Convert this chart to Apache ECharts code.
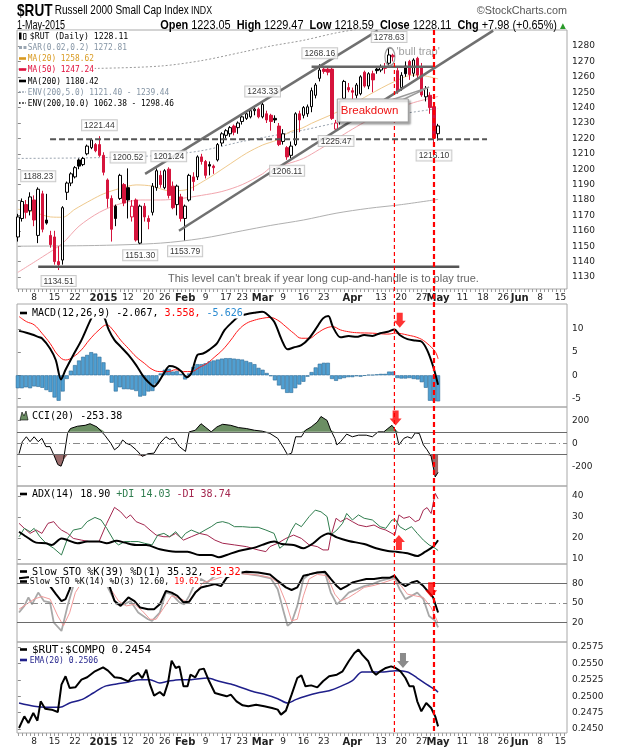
<!DOCTYPE html>
<html>
<head>
<meta charset="utf-8">
<title>$RUT daily</title>
<script src="https://cdn.jsdelivr.net/npm/echarts@6.0.0/dist/echarts.min.js"></script>
<style>
  html, body { margin: 0; padding: 0; background: #fff; }
  #chart { width: 620px; height: 750px; }
</style>
</head>
<body>
<div id="chart"></div>
<script>
// ---- price data, one entry per trading day (index 0 = 2 Dec 2014, 103 = 1 May 2015)
const opens = [
  1156,1168,1177,1173,1180,1157,1184,1167,1157,1156,
  1140,1141,1185,1191,1195,1206,1203,1210,1214,1216,
  1216,1209,1193,1181,1176,1181,1190,1188,1169,1180,
  1152,1176,1168,1172,1188,1196,1188,1200,1189,1177,
  1182,1168,1180,1195,1195,1208,1205,1203,1202,1206,
  1217,1222,1223,1228,1227,1231,1233,1234,1238,1239,
  1234,1236,1235,1233,1228,1218,1214,1209,1216,1236,
  1235,1236,1240.6,1248,1259,1265,1265,1265,1226,1231,
  1246,1253,1251,1248,1249,1263,1254,1262,1265,1264.4,
  1266.6,1268.8,1274,1264,1253,1267,1270,1262.3,1272,1266.6,
  1247,1248,1240.6,1223.05];
const highs = [
  1171,1181,1180,1185,1183,1188.23,1186,1184,1160,1160,
  1150,1176,1192,1198,1202,1207,1208,1216,1220,1217,
  1221.44,1211,1194,1183,1177,1197,1191,1200.52,1180,1181,
  1177,1178,1170,1191,1200.5,1199,1200,1201.24,1192,1190,
  1184,1177,1197,1198,1209,1210,1206,1205,1203,1217,
  1224,1226,1228,1229,1231,1235,1237,1239,1240,1240,
  1243.33,1238,1236,1235,1230,1226,1215,1218,1237,1238,
  1241,1242,1253,1256,1268.16,1266,1266,1266,1232,1238,
  1258,1256,1253,1256,1261,1264,1263,1264,1266,1268,
  1269,1278.63,1275,1266,1263,1270,1271,1272,1273,1269,
  1254,1250,1241,1229.47];
const lows = [
  1153,1166,1168,1170,1163,1152,1159,1164,1149,1138,
  1134.51,1138,1180,1189,1194,1200,1202,1209,1213,1211,
  1208,1196,1175,1153,1163,1180,1176,1168,1166,1153,
  1151.3,1166,1161,1170,1186,1188,1187,1181,1174,1170,
  1166,1153.79,1179,1186,1193,1203,1194,1196,1197,1205,
  1215,1220,1221,1222,1223,1229,1232,1233,1235,1233,
  1233,1230,1225,1230,1215,1216,1206.11,1207,1215,1224,
  1233,1234,1237,1246,1257,1262,1261,1232,1225.47,1229,
  1245,1250,1245,1246,1248,1253,1252,1250,1262,1263,
  1262,1267,1270,1249,1251,1260,1258,1260,1259,1247,
  1244,1236,1216.1,1218.59];
const closes = [
  1169,1179,1172,1182,1167,1187,1161,1165,1151,1140,
  1138,1175,1191,1197,1201,1202,1207,1215,1219,1212,
  1209,1198,1181,1161,1168,1196,1178,1180,1176,1154,
  1176,1169,1166,1189,1199,1190,1199,1183,1175,1189,
  1168,1176,1196,1192,1208,1205,1196,1202,1201,1216,
  1223,1225,1227,1224,1230,1234,1236,1238,1239,1234,
  1242,1232,1231,1232,1216,1223,1208,1215,1236,1232,
  1240,1240.5,1251,1254.7,1264.4,1263.5,1263,1233,1230,1236,
  1257,1251.5,1250,1254.7,1260,1254,1262,1258,1264,1266.6,
  1265.5,1274.2,1273,1250.4,1261,1262,1261.5,1270.9,1261.2,1248.2,
  1252.5,1240,1220.13,1228.11];

// x-axis labels: [day index, text]
const tickLabels = [[4,'8'],[9,'15'],[14,'22'],[21,'2015'],[27,'12'],[32,'20'],[36,'26'],
  [41,'Feb'],[46,'9'],[51,'17'],[55,'23'],[60,'Mar'],[65,'9'],[70,'16'],[75,'23'],
  [82,'Apr'],[89,'13'],[94,'20'],[99,'27'],[103,'May'],[109,'11'],[114,'18'],[119,'26'],
  [123,'Jun'],[128,'8'],[133,'15']];
const boldLabels = ['2015','Feb','Mar','Apr','May','Jun'];

// overlays on the price panel: [day index, value]
const ma20 = [[0,1174],[4,1172],[8,1169],[11,1168.8],[14,1174],[18,1180],[21,1184],[25,1187.5],[29,1189.8],
  [33,1189],[37,1186],[41,1186.5],[46,1193],[51,1201.6],[56,1210.3],[60,1215.7],[63.5,1219],[66.7,1224.3],
  [69.6,1226.6],[72,1229.8],[77.6,1236.3],[82,1242],[86,1248.2],[92.3,1256.9],[97,1261.2],[100,1260.5],[103,1258.62]];
const ma50 = [[0,1133],[6,1143],[11,1152],[15,1163],[20,1172],[25,1177.5],[30,1180],[35,1180],[40,1181],
  [45,1183],[50,1185.5],[55,1190],[60,1197],[62,1201],[66,1203.5],[70,1207],[74,1213],[78,1219.5],[82,1226],
  [86,1232],[90,1236.5],[94,1240.6],[98,1244],[103,1247.24]];
const ma200 = [[0,1150],[20,1150.5],[35,1152],[45,1155],[55,1160],[62,1163.5],[70,1167],[78,1171.4],
  [86,1174.6],[94,1177],[103,1180.42]];
const env5Upper = [[0,1207],[20,1207.5],[35,1209],[45,1212],[55,1218],[62,1221.5],[70,1225.4],[78,1230],
  [86,1233.5],[94,1236],[103,1239.44]];
const env10Upper = [[0,1265],[20,1265.5],[35,1267],[45,1270.5],[55,1276],[62,1280],[70,1283.7],[78,1288.5],
  [86,1292],[94,1294.7],[103,1298.46]];

// hand-drawn annotations: [[x1,y1],[x2,y2]]
const channelLines = [[[31.2,1197],[88.2,1290]], [[39.5,1160],[116.5,1290]]];
const levelLines = [[[72,1266.6],[101.8,1266.6]], [[5,1136.7],[108.2,1136.7]]];
const dashedLevel = [[7.9,1219.5],[115,1219.5]];
const priceNotes = [[5,'h'],[10,'l'],[20,'h'],[27,'h'],[30,'l'],[37,'h'],[41,'l'],[60,'h'],[66,'l'],
  [74,'h'],[78,'l'],[91,'h'],[102,'l']];
const bullTrap = [91.2, 1273];
const breakdownBox = [78.3, 1245.6, 95.7, 1230.7];
const breakdownTip = [100.8, 1253.3];
const cupNote = [36.8, 1128.7];
const redLines = [{x: 92.3, from: 1269, w: 1.2, dash: [4, 3]}, {x: 102, from: 1290.4, w: 2.2, dash: [5, 3]}];
const arrows = [
  {grid: 1, x: 93.6, y: 11.9, up: false, color: '#ff0000'},
  {grid: 2, x: 92.6, y: 221, up: false, color: '#ff0000'},
  {grid: 3, x: 93.4, y: 17.9, up: true, color: '#ff0000'},
  {grid: 4, x: 101.3, y: 70.5, up: false, color: '#ff0000'},
  {grid: 5, x: 94.4, y: 0.25544, up: false, color: '#6e6e6e'}];

// MACD(12,26,9)
const macdHist = [
  -2.8,-2.8,-2.6,-2.8,-2.4,-2.5,-2.7,-3.2,-3.6,-4.8,
  -5.5,-3.5,-0.8,1.0,2.2,3.2,4.0,4.4,5.0,4.7,
  4.0,2.8,1.2,-1.6,-3.5,-2.6,-3.0,-3.0,-3.1,-3.4,
  -4.6,-4.4,-3.5,-3.4,-1.8,0.4,1.2,1.4,0.8,0.9,
  0.3,-0.9,0.4,1.8,2.4,2.4,2.6,3.0,3.2,3.4,
  3.6,3.7,3.7,3.6,3.5,3.4,3.1,2.8,2.4,1.6,
  1.2,0.5,-0.2,-1.1,-2.2,-3.0,-3.8,-3.8,-2.8,-2.0,
  -1.4,-0.3,0.7,1.7,2.5,2.7,2.7,-0.8,-1.2,-0.8,
  -0.6,-0.4,-0.4,-0.2,-0.3,-0.1,0.1,0.1,0.2,0.3,
  0.3,0.8,0.8,-0.6,-0.7,-0.7,-0.6,-0.8,-0.9,-1.5,
  -2.7,-5.5,-5.6,-5.63];
const macdLine = [[0.3,9.6],[2.1,9.2],[3.5,8.8],[5,8.3],[5.9,8.0],[7.9,5.8],[9.3,3.3],[10.6,-0.9],[11.7,1.2],
  [13.6,4.4],[15.6,7.6],[18,12.3],[19.4,14.3],[21.1,12.7],[22.3,9.8],[23.7,7.6],[25.2,6.2],[27.1,4.4],[29,2.2],
  [30.5,0.1],[31.9,-1.4],[33.4,-2.4],[34.3,-1.7],[35.8,0.4],[37.2,2.0],[38.7,1.7],[40.1,0.8],[41.4,-0.4],
  [42.5,0.4],[44,4.4],[45.4,4.7],[46.9,5.5],[48.8,6.9],[50.7,9.8],[52.7,11.6],[54.1,12.7],[56,13.2],[58,13.5],
  [59.9,13.7],[60.8,13.4],[62.8,11.6],[64.7,7.6],[66.1,5.6],[67.6,6.0],[69.5,6.5],[71.4,8.0],[73.4,10.5],
  [74.8,12.3],[76.1,12.8],[77.2,10.5],[79.1,8.2],[81.1,8.5],[83,8.3],[84.9,8.7],[86.9,8.5],[88.8,9.1],
  [90.7,9.4],[92.3,9.9],[93.6,8.7],[95.5,7.8],[97.4,7.5],[98.9,7.3],[100.3,5.5],[101.8,1.9],[103,-2.067]];
const macdSignal = [[0.3,12.7],[2.1,11.6],[4,10.9],[5.9,9.1],[7.9,6.9],[9.8,4.4],[11.7,3.3],[13.6,4.0],
  [15.6,5.5],[17.5,7.6],[19.9,9.8],[21.8,10.9],[23.3,9.8],[25.2,7.6],[27.1,5.8],[29,4.0],[31,2.6],[32.9,1.3],
  [34.8,0.8],[36.8,0.8],[38.7,1.2],[40.6,0.8],[42.5,0.8],[44.5,1.7],[46.4,2.6],[48.3,4.0],[50.2,5.5],
  [52.2,7.6],[54.1,9.8],[56,11.2],[58,11.9],[59.9,12.3],[61.8,12.5],[63.7,11.9],[65.7,10.5],[67.6,9.1],
  [69.5,8.0],[71.4,8.0],[73.4,9.1],[75.3,10.1],[77.2,10.5],[79.1,9.8],[81.1,9.4],[83,9.2],[86.9,9.1],
  [90.7,8.9],[92.6,9.1],[95.5,8.7],[98.4,8.0],[100.3,6.9],[102.3,5.1],[103,3.558]];

// CCI(20)
const cci = [[0.3,-91],[1.1,14],[2.1,57],[3,14],[4,57],[5,14],[5.9,43],[6.9,-29],[7.9,-29],[8.8,-100],
  [9.8,-186],[10.6,-200],[11.2,-143],[12.2,86],[12.9,129],[14.6,149],[16.5,157],[17.7,171],[19.4,143],
  [21.3,71],[22.8,0],[23.7,-57],[24.7,-29],[25.7,29],[26.6,0],[27.6,-14],[29,-57],[30.5,-114],[31.9,-91],
  [33.4,-86],[34.8,0],[36.3,57],[37.2,34],[38.2,43],[39.6,-29],[41.1,-71],[42,100],[43.5,114],[44.9,171],
  [45.9,143],[47.4,100],[48.8,143],[50.2,166],[52.2,157],[54.1,137],[56,129],[58,114],[59.9,106],[61.8,86],
  [63.7,43],[65.2,-43],[66.1,-100],[67.1,-86],[68.1,57],[69.5,57],[70.5,114],[71.9,143],[73.4,186],
  [74.3,234],[75.8,200],[76.7,114],[77.7,43],[78.2,-14],[79.1,14],[80.6,80],[82,57],[83.5,71],[85.4,71],
  [86.9,57],[88.3,100],[89.7,100],[90.7,129],[91.7,157],[92.6,114],[93.4,-14],[94.6,43],[95.5,57],
  [96.5,43],[97.4,91],[98.4,86],[99.4,-14],[100.3,-57],[101.3,-114],[102.3,-294],[103,-253.38]];

// ADX(14)
const adx = [[0.3,23],[2.1,20.6],[4.5,17.8],[6.9,17.5],[8.3,16.7],[10.7,19.8],[12.2,19],[14.6,17.5],[17,18.3],
  [19.9,18.3],[21.8,17.5],[24.2,18.7],[26.2,17.8],[29,16.7],[31.5,16.7],[34.8,14.6],[38.7,13.5],[41.6,13.5],
  [44.5,11.9],[47.4,11.9],[49.3,10.8],[51.2,11.9],[54.1,13.8],[58,15.4],[59.9,16.7],[62.8,18.3],[64.7,17.1],
  [67.6,16.7],[70,15.1],[72.4,17.5],[74.3,20.6],[76.1,22.2],[78.2,20.3],[81.1,18.6],[84.9,17.1],[87.8,15.1],
  [90.7,13.8],[92.6,13.5],[95.5,12.7],[97.9,11.4],[99.9,13.5],[101.8,15.9],[103,18.9]];
const plusDI = [[0.3,20.6],[1.6,24.6],[3,23],[4,24.6],[5.4,20.6],[6.9,17.5],[8.8,15.1],[10.7,11.9],[12.2,19.8],
  [13.6,23.8],[15.6,24.6],[17,27.8],[18.9,29.8],[20.4,28.6],[21.8,24.6],[23.7,18.3],[24.7,16.7],[26.2,18.3],
  [27.6,18.3],[29.5,18.3],[31,17.5],[32.9,16.7],[34.3,21.4],[35.8,22.2],[37.2,20.6],[38.7,23],[40.1,19.8],
  [41.1,22.2],[42.5,23.8],[44.5,22.2],[45.9,23.8],[47.4,25.4],[48.8,27.3],[50.2,27.8],[51.7,27],[53.1,25.4],
  [55.1,25.4],[57,25.1],[58.9,25.1],[60.8,23.8],[62.8,22.2],[64.2,15.1],[65.7,17.5],[67.1,23.8],[68.1,27],
  [69.5,25.4],[71.4,30.2],[72.9,33.3],[74.3,32.5],[75.8,30.2],[76.7,21.4],[78.2,23.8],[79.6,27],[80.6,31.7],
  [82,28.6],[83.5,31],[84.9,29.4],[86.9,28.6],[88.8,25.4],[90.2,24.6],[91.7,28.6],[92.6,28.6],[93.6,25.4],
  [95,23.8],[96.5,25.4],[97.9,22.2],[99.4,19],[100.8,16.7],[102.3,15.1],[103,14.03]];
const minusDI = [[0.3,27],[1.6,24.6],[3,22.2],[4.5,23.8],[5.9,22.2],[7.4,27],[8.8,27.8],[9.8,25.4],[10.7,23.8],
  [12.2,22.2],[13.6,19.8],[15.6,19],[17.5,18.3],[19.9,18.3],[21.8,27],[23.7,34.6],[25.2,32.5],[26.6,29.4],
  [27.6,31],[29,27.8],[31,26.2],[32.4,23.8],[33.9,21.4],[35.8,20.6],[37.2,20.6],[38.7,22.2],[40.6,19],
  [42.5,20.6],[44.5,22.2],[46.4,21.4],[48.3,19],[50.2,17.5],[53.1,16.7],[56,15.9],[58.9,14.3],[60.8,13.5],
  [61.8,15.9],[63.7,17.5],[65.7,19.8],[67.6,21.4],[69.5,19.8],[71.4,16.7],[73.4,15.9],[74.8,14.3],[76.1,14.3],
  [76.7,20.6],[78,29.4],[79.1,27.8],[80.6,29.4],[82,27.8],[83.5,26.2],[85.4,25.4],[87.3,26.2],[88.8,24.6],
  [90.2,23.8],[91.7,22.2],[92.4,21.4],[93.4,31],[94.6,29.4],[96,30.2],[97.4,27.8],[98.4,28.6],[99.4,33.3],
  [100.3,34.5],[101.3,31.7],[102.3,41.3],[103,38.74]];

// Slow stochastics
const sto39 = [[0.3,88],[3,90],[5,92],[6.9,85],[7.9,76],[9.3,64],[10.7,53],[11.7,56],[12.7,71],[13.5,88],
  [15,95],[17,97],[19,98],[21,94],[22.3,79],[23.7,53],[25.2,45.6],[27.1,58.5],[28.6,53],[30,43],[31.9,40.5],
  [33.4,40.5],[34.8,48],[36.3,68.7],[37.7,66],[39.1,61],[40.6,51],[42,52],[43.5,66],[44.9,74],[46.4,76],
  [48.3,79],[49.8,76],[51.2,89],[53,95],[56,98],[58.9,97],[61.8,94],[63.7,84],[65.7,74],[67.1,70],[68.5,74],
  [70,92],[71.4,94],[73.4,97],[75.3,98],[76.7,87],[78.2,76],[79.1,71],[80.6,76],[82,81.5],[83.5,84],[85.4,87],
  [87.3,87],[89.3,89],[91.2,89],[92.3,92],[93.6,81.5],[95,76],[96.5,81.5],[97.9,84],[99.4,76],[100.8,66],
  [101.8,58.5],[103,35.32]];
const sto14K = [[0.3,35.4],[1.6,45.6],[2.6,58.5],[3.5,48],[5,66],[6.4,53],[7.9,51],[8.8,20],[10.7,7],[12.2,45.6],
  [13.6,76],[15,90],[17,95],[19,92],[21,88],[22.3,71],[24.2,48],[26.2,48],[27.6,53],[29.5,35.4],[31.9,25],
  [32.9,22.6],[34.8,35.4],[36.3,66],[37.7,63.6],[39.6,51],[40.8,48],[42,61],[43.5,81.5],[44.9,87],[46.4,81.5],
  [48,90],[50,95],[53,97],[56,95],[59,92],[62,88],[63.7,71],[65.2,35.4],[66.1,15],[67.1,20],[68.5,45.6],
  [70,87],[71.4,94],[73.4,97],[75.3,96],[76.7,66],[78.2,48],[79.6,56],[81.1,66],[83,71],[84.9,76],[86.9,79],
  [88.8,84],[90.7,87],[92.3,89],[93.6,71],[95,56],[96.5,61],[97.9,66],[99.4,56],[100.8,30],[102.3,22.6],[103,12.6]];
const sto14D = [[0.3,40.5],[2.1,48],[4,56],[5.9,60],[7.9,56],[9.8,30],[11.2,15],[12.7,35],[14.1,66],[16,85],
  [18,93],[20,92],[21.5,85],[22.8,71],[24.7,53],[26.6,45.6],[28.6,48],[30.5,38],[32.4,25],[33.9,25],[35.8,43],
  [37.7,61],[40.1,56],[41.6,51],[43.5,66],[45.4,81.5],[48,86],[51,92],[55,95],[59,93],[62,89],[63.7,81.5],
  [65.7,51],[67.1,22.6],[68.5,25],[70,61],[71.4,87],[73.4,94],[75.8,92],[77.7,63.6],[79.1,53],[81.1,58.5],
  [83,66],[84.9,74],[87.3,77],[89.7,81.5],[92.3,87],[94,76],[95.5,63.6],[97.4,61],[99.4,58.5],[101.3,43],[103,19.62]];

// $RUT:$COMPQ ratio and its EMA(20)
const ratio = [[0.3,0.24515],[1.6,0.24693],[2.6,0.24591],[3.8,0.24744],[4.8,0.24627],[5.6,0.24922],[6.7,0.2481],
  [8.3,0.24795],[9.8,0.24759],[10.7,0.25176],[11.7,0.25303],[12.7,0.25125],[14.1,0.25135],[15.6,0.25252],
  [17,0.25288],[18.9,0.25379],[20.9,0.2544],[22.1,0.2539],[23.7,0.25288],[25.2,0.25277],[27.1,0.25227],
  [28.1,0.25303],[29.5,0.25354],[30.5,0.25277],[31.5,0.25405],[32.4,0.25176],[33.4,0.25008],[34.8,0.25064],
  [35.8,0.25008],[36.8,0.25201],[37.7,0.25542],[38.7,0.2543],[39.6,0.25455],[40.6,0.2515],[41.6,0.2515],
  [42.3,0.25328],[43.5,0.25288],[44.5,0.25405],[45.6,0.2542],[46.9,0.25227],[48.3,0.25049],[49.8,0.25023],
  [51.2,0.24998],[52.2,0.25023],[53.6,0.24922],[55.1,0.24861],[56.5,0.24846],[58.4,0.24871],[60.4,0.24846],
  [62.3,0.2482],[63.7,0.24795],[64.5,0.24719],[65.7,0.2478],[67.1,0.25023],[68.5,0.25277],[69.5,0.25318],
  [70.5,0.2515],[71.9,0.25165],[73.4,0.25135],[74.8,0.25227],[76.3,0.25303],[78.2,0.25328],[79.6,0.25379],
  [81.1,0.25532],[82.5,0.25659],[83.5,0.2571],[84.4,0.25633],[85.9,0.25532],[86.9,0.25379],[87.8,0.25328],
  [88.8,0.25379],[90.2,0.2543],[91.5,0.25455],[92.6,0.2543],[93.8,0.25379],[95,0.25277],[96,0.2515],
  [97,0.2515],[97.9,0.24922],[98.9,0.2477],[100.1,0.24896],[101.3,0.2482],[102.3,0.24693],[103,0.2454]];
const ratioEma = [[0.3,0.24896],[4,0.24846],[6.9,0.2483],[10.3,0.2483],[12.7,0.24896],[15.6,0.24947],
  [18.5,0.25049],[21.3,0.2515],[24.2,0.25186],[27.1,0.25216],[30,0.25252],[32.4,0.25252],[34.8,0.25201],
  [36.8,0.25227],[39.6,0.25252],[42.5,0.25252],[46.4,0.25277],[49.3,0.25227],[52.2,0.25186],[55.1,0.25125],
  [58,0.25064],[60.8,0.25023],[63.7,0.24962],[66.1,0.24896],[68.1,0.24947],[70.5,0.24998],[73.4,0.25049],
  [76.3,0.25084],[79.1,0.2515],[82,0.25237],[84.4,0.25369],[86.9,0.25369],[89.7,0.25369],[92.6,0.25389],
  [95.5,0.25369],[97.9,0.25277],[100.3,0.25176],[102.3,0.251],[103,0.2506]];

// ---- layout
const FONT = 'DejaVu Sans';
const MONO = 'DejaVu Sans Mono';
const SANS = 'Liberation Sans';
const RED = '#d6143c';
const grids = [
  {top: 30, height: 259}, {top: 304, height: 103}, {top: 407, height: 79},
  {top: 486, height: 78}, {top: 564, height: 78}, {top: 642, height: 91}];
const yRanges = [[1122.2, 1290.4], [-6.85, 15.4], [-373, 317], [7.6, 44.8], [-10, 110], [0.24439, 0.25826]];
const yTicks = [
  [1130,1140,1150,1160,1170,1180,1190,1200,1210,1220,1230,1240,1250,1260,1270,1280],
  [-5,0,5,10], [-200,0,200], [10,20,30,40], [20,50,80],
  [0.245,0.2475,0.25,0.2525,0.255,0.2575]];
const dayTicks = [];
for (let i = 0; i <= 134; i++) dayTicks.push(i);
const labelMap = {};
tickLabels.forEach(([i, t]) => { labelMap[i] = t; });

const chart = echarts.init(document.getElementById('chart'), null, {renderer: 'canvas', width: 620, height: 750});

function line(gi, data, color, width, extra) {
  return Object.assign({type: 'line', xAxisIndex: gi, yAxisIndex: gi, data, symbol: 'none', silent: true,
    lineStyle: {color, width}, itemStyle: {color}, z: 3}, extra || {});
}
function segment(data, color, width, dash) {
  return line(0, data, color, width, {lineStyle: {color, width, type: dash || 'solid'}, z: 5});
}

const candleData = opens.map((o, i) => {
  const c = closes[i];
  const col = (i > 0 && c < closes[i - 1]) ? RED : '#000';
  const fill = c > o ? '#fff' : col;
  return {value: [i, o, c, lows[i], highs[i]],
    itemStyle: {color: fill, color0: fill, borderColor: col, borderColor0: col, borderWidth: 1}};
});

const arrowPath = 'path://M3,0 L9,0 L9,8 L12,8 L6,15 L0,8 L3,8 Z';
const arrowSeries = arrows.map(a => ({
  type: 'scatter', xAxisIndex: a.grid, yAxisIndex: a.grid, silent: true, z: 20,
  data: [[a.x, a.y]], symbol: arrowPath, symbolSize: [12, 15], symbolRotate: a.up ? 180 : 0,
  itemStyle: {color: a.color}
}));

const refLine = (v, dashed) => ({yAxis: v, lineStyle: {color: dashed ? '#8a8a8a' : '#6a6a6a', width: 1,
  type: dashed ? [7, 3, 1, 3] : 'solid'}});

const series = [
  line(0, env10Upper, '#9a9a9a', 1, {lineStyle: {color: '#9a9a9a', width: 1, type: [2, 2]}, smooth: 0.3}),
  line(0, env5Upper, '#9aa4b0', 1, {lineStyle: {color: '#9aa4b0', width: 1, type: [2, 2]}, smooth: 0.3}),
  line(0, ma200, '#b0b0b0', 1, {smooth: 0.3}),
  line(0, ma50, '#f2a6ae', 1, {smooth: 0.3}),
  line(0, ma20, '#efc98c', 1, {smooth: 0.3}),
  {type: 'candlestick', xAxisIndex: 0, yAxisIndex: 0, data: candleData, barWidth: 3, silent: true, z: 4,
    encode: {x: 0, y: [1, 2, 3, 4]}},
  segment(channelLines[0], '#707070', 2.5),
  segment(channelLines[1], '#707070', 2.5),
  segment(levelLines[0], '#666', 2.5),
  segment(levelLines[1], '#555', 2.5),
  segment(dashedLevel, '#555', 2, [6, 3]),
  {type: 'scatter', xAxisIndex: 0, yAxisIndex: 0, silent: true, z: 8, symbolSize: 0,
    data: priceNotes.map(([i, k]) => ({value: [i, k === 'h' ? highs[i] : lows[i]],
      label: {position: k === 'h' ? 'top' : 'bottom'}})),
    label: {show: true, distance: 6, formatter: p => p.value[1].toFixed(2), fontSize: 8.5,
      fontFamily: SANS, color: '#000', backgroundColor: '#fff', borderColor: '#bdbdbd',
      borderWidth: 1, padding: [1, 2, 0, 2]}},
  {type: 'scatter', xAxisIndex: 0, yAxisIndex: 0, silent: true, z: 8, data: [bullTrap],
    symbol: 'circle', symbolSize: [10, 18],
    itemStyle: {color: 'rgba(0,0,0,0)', borderColor: '#808080', borderWidth: 1.5},
    label: {show: true, position: 'right', distance: 1, offset: [0, -5], formatter: "'bull trap'",
      color: '#888', fontSize: 11, fontFamily: SANS}},

  {type: 'bar', xAxisIndex: 1, yAxisIndex: 1, silent: true, barWidth: 4, z: 2,
    data: macdHist.map((v, i) => [i, v]),
    itemStyle: {color: '#4f9fd2', borderColor: '#2c6a96', borderWidth: 0.6}},
  line(1, macdSignal, '#ff1a1a', 1, {smooth: 0.4}),
  line(1, macdLine, '#000', 2, {smooth: 0.3}),

  line(2, cci.map(([x, v]) => [x, Math.max(v, 100)]), '#6b8e63', 0,
    {areaStyle: {origin: 100, color: '#6b8e63', opacity: 1}, z: 2}),
  line(2, cci.map(([x, v]) => [x, Math.min(v, -100)]), '#9a6c6c', 0,
    {areaStyle: {origin: -100, color: '#9a6c6c', opacity: 1}, z: 2}),
  line(2, cci, '#000', 1, {markLine: {symbol: 'none', silent: true, label: {show: false}, animation: false,
    data: [refLine(100), refLine(-100), refLine(0, true)]}}),

  line(3, minusDI, '#a3264e', 1),
  line(3, plusDI, '#2f7d4e', 1),
  line(3, adx, '#000', 2, {smooth: 0.3}),

  line(4, sto14K, '#a8a8a8', 1.8, {markLine: {symbol: 'none', silent: true, label: {show: false},
    animation: false, data: [refLine(80), refLine(20), refLine(50, true)]}}),
  line(4, sto14D, '#f29a9a', 1),
  line(4, sto39, '#000', 2),

  line(5, ratioEma, '#1f1f8a', 1.5, {smooth: 0.3}),
  line(5, ratio, '#000', 2),
  ...arrowSeries
];

const xAxis = grids.map((g, i) => ({
  type: 'value', gridIndex: i, min: -0.2, max: 134.6, show: i === 0 || i === 5,
  axisLine: {show: false}, splitLine: {show: false},
  axisTick: {show: true, customValues: dayTicks, length: 3, lineStyle: {color: '#9a9a9a'}},
  axisLabel: {customValues: tickLabels.map(t => t[0]), margin: 4, fontSize: 9, fontFamily: FONT, color: '#222',
    formatter: v => { const t = labelMap[Math.round(v)]; return t ? (boldLabels.includes(t) ? '{b|' + t + '}' : t) : ''; },
    rich: {b: {fontWeight: 'bold', fontSize: 10, fontFamily: FONT, color: '#222'}}}
}));
const yAxis = grids.map((g, i) => ({
  type: 'value', gridIndex: i, min: yRanges[i][0], max: yRanges[i][1], position: 'right',
  splitLine: {show: false}, axisLine: {show: false},
  axisTick: {show: true, customValues: yTicks[i], length: 3, lineStyle: {color: '#888'}},
  axisLabel: {customValues: yTicks[i], margin: 5, fontSize: 9, fontFamily: FONT, color: '#222',
    formatter: i === 5 ? (v => v.toFixed(4)) : (v => String(v))}
}));

// ---- static text (titles, legends)
function txt(x, y, style, z, scaleX) {
  const el = {type: 'text', x, y, z: z || 100, silent: true,
    style: Object.assign({fill: '#000', fontSize: 9, fontFamily: FONT, verticalAlign: 'middle', textAlign: 'left'}, style)};
  if (scaleX) el.scaleX = scaleX;
  return el;
}
function richRow(x, y, parts, size, scaleX) {
  const rich = {};
  let text = '';
  parts.forEach(([t, c], k) => { rich['p' + k] = {fill: c, fontSize: size, fontFamily: MONO}; text += '{p' + k + '|' + t + '}'; });
  return txt(x, y, {text, rich, backgroundColor: '#fff', padding: [1, 1, 0, 1]}, 100, scaleX);
}
function icon(x, y, color, kind) {
  if (kind === 'dots') return {type: 'line', z: 101, silent: true, shape: {x1: x, y1: y, x2: x + 7, y2: y},
    style: {stroke: color, lineWidth: 1.6, lineDash: [1.6, 1.6]}};
  return {type: 'rect', z: 101, silent: true, shape: {x: x, y: y - 1.3, width: 7, height: 2.6}, style: {fill: color}};
}

const last = opens.length - 1;
const chg = closes[last] - closes[last - 1];
const headerParts = [['Open', 'b'], [' ' + opens[last].toFixed(2) + '  ', 'n'], ['High', 'b'],
  [' ' + highs[last].toFixed(2) + '  ', 'n'], ['Low', 'b'], [' ' + lows[last].toFixed(2) + '  ', 'n'],
  ['Close', 'b'], [' ' + closes[last].toFixed(2) + '  ', 'n'], ['Chg', 'b'],
  [' +' + chg.toFixed(2) + ' (+' + (chg / closes[last - 1] * 100).toFixed(2) + '%)', 'n']];

const staticGraphics = [
  txt(17, 11, {text: '{a|$RUT} {b|Russell 2000 Small Cap Index} {c|INDX}', rich: {
    a: {fontSize: 17, fontWeight: 'bold', fontFamily: SANS, fill: '#000'},
    b: {fontSize: 12.5, fontFamily: SANS, fill: '#000'},
    c: {fontSize: 11, fontFamily: SANS, fill: '#000'}}}, 100, 0.8),
  txt(567, 11, {text: '\u00a9StockCharts.com', textAlign: 'right', fontSize: 10.8, fontFamily: SANS, fill: '#555'}),
  txt(17, 25.5, {text: '1-May-2015', fontSize: 12, fontFamily: SANS}, 100, 0.75),
  txt(557, 25.5, {textAlign: 'right', text: headerParts.map(([t, s]) => '{' + s + '|' + t + '}').join(''), rich: {
    b: {fontSize: 12, fontWeight: 'bold', fontFamily: SANS, fill: '#000'},
    n: {fontSize: 12, fontFamily: SANS, fill: '#000'}}}, 100, 0.91),
  txt(563, 26, {text: '\u25b2', textAlign: 'center', fontSize: 7.5, fill: '#2a9a2a'}),

  // price panel legend
  {type: 'rect', z: 101, silent: true, shape: {x: 19, y: 32.5, width: 2.5, height: 7}, style: {fill: '#000'}},
  {type: 'rect', z: 101, silent: true, shape: {x: 23.5, y: 33.5, width: 2.5, height: 6}, style: {fill: '#fff', stroke: '#000', lineWidth: 0.8}},
  richRow(29, 36, [['$RUT (Daily) 1228.11', '#000']], 9.5, 0.86),
  {type: 'rect', z: 101, silent: true, shape: {x: 19, y: 46, width: 3, height: 3}, style: {fill: '#9aa6b2'}},
  {type: 'rect', z: 101, silent: true, shape: {x: 23.5, y: 46, width: 3, height: 3}, style: {fill: '#9aa6b2'}},
  richRow(27, 47.5, [['SAR(0.02,0.2) 1272.81', '#8595a5']], 9, 0.87),
  icon(19, 58.5, '#d99a20'), richRow(27, 58.5, [['MA(20) 1258.62', '#d99a20']], 9, 0.87),
  icon(19, 69.5, '#e0103c'), richRow(27, 69.5, [['MA(50) 1247.24', '#e0103c']], 9, 0.87),
  icon(19, 81, '#000'), richRow(27, 81, [['MA(200) 1180.42', '#000']], 9, 0.87),
  icon(19, 92, '#8595a5', 'dots'), richRow(27, 92, [['ENV(200,5.0) 1121.40 - 1239.44', '#8595a5']], 9, 0.87),
  icon(19, 103, '#000', 'dots'), richRow(27, 103, [['ENV(200,10.0) 1062.38 - 1298.46', '#000']], 9, 0.87),

  // indicator legends
  icon(20, 313, '#000'),
  richRow(31, 313, [['MACD(12,26,9) -2.067, ', '#000'], ['3.558, ', '#ff0000'], ['-5.626', '#2a8ad0']], 10),
  {type: 'polygon', z: 101, silent: true, shape: {points: [[20, 420], [22, 412], [24, 416], [26, 411], [28, 420]]},
    style: {fill: '#6b8e63', stroke: '#000', lineWidth: 0.6}},
  richRow(31, 416, [['CCI(20) -253.38', '#000']], 10),
  icon(20, 494, '#000'),
  richRow(31, 494, [['ADX(14) 18.90 ', '#000'], ['+DI 14.03 ', '#2f7d4e'], ['-DI 38.74', '#a3264e']], 10),
  icon(20, 571.5, '#000'),
  richRow(31, 571.5, [['Slow STO %K(39) %D(1) 35.32, ', '#000'], ['35.32', '#ff0000']], 10.2),
  icon(20, 581.5, '#000'),
  richRow(29, 581.5, [['Slow STO %K(14) %D(3) 12.60, ', '#000'], ['19.62', '#ff0000']], 9.5, 0.87),
  icon(20, 649.5, '#000'),
  richRow(31, 649.5, [['$RUT:$COMPQ 0.2454', '#000']], 11),
  icon(20, 660, '#1f1f8a'),
  richRow(29, 660, [['EMA(20) 0.2506', '#1f1f8a']], 9.3, 0.87)
];

chart.setOption({
  animation: false,
  backgroundColor: '#fff',
  grid: grids.map(g => ({left: 17, width: 550, top: g.top, height: g.height, show: true,
    borderColor: '#a8a8a8', borderWidth: 1, backgroundColor: 'rgba(0,0,0,0)'})),
  xAxis, yAxis, series,
  graphic: staticGraphics
});

// ---- annotations placed through the axes' own scales
function px(gi, x, y) { return chart.convertToPixel({gridIndex: gi}, [x, y]); }
const dyn = [];
const bottomY = px(5, 0, yRanges[5][0])[1];
redLines.forEach(r => {
  const [x, y0] = px(0, r.x, r.from);
  dyn.push({type: 'line', z: 90, silent: true, shape: {x1: x, y1: y0, x2: x, y2: bottomY},
    style: {stroke: '#ff0000', lineWidth: r.w, lineDash: r.dash}});
});
const [bx1, by1] = px(0, breakdownBox[0], breakdownBox[1]);
const [bx2, by2] = px(0, breakdownBox[2], breakdownBox[3]);
const [tx, ty] = px(0, breakdownTip[0], breakdownTip[1]);
dyn.push({type: 'polygon', z: 110, silent: true, shape: {points: [[bx2 - 17, by1 + 1], [tx, ty], [bx2 - 6, by1 + 1]]},
  style: {fill: '#f4f4f4', stroke: '#9a9a9a', lineWidth: 1.5}});
dyn.push({type: 'rect', z: 111, silent: true, shape: {x: bx1, y: by1, width: bx2 - bx1, height: by2 - by1},
  style: {fill: '#fff', stroke: '#9a9a9a', lineWidth: 1, shadowColor: 'rgba(0,0,0,0.35)', shadowOffsetX: 2,
    shadowOffsetY: 2, shadowBlur: 2}});
dyn.push(txt(bx1 + 3.5, (by1 + by2) / 2, {text: 'Breakdown', fontSize: 11.5, fontFamily: SANS, fill: '#ee1111'}, 112));
const [cx, cy] = px(0, cupNote[0], cupNote[1]);
dyn.push(txt(cx, cy, {text: "This level can't break if year long cup-and-handle is to play true.",
  fontSize: 11, fontFamily: SANS, fill: '#666'}, 60));

chart.setOption({graphic: staticGraphics.concat(dyn)});
</script>
</body>
</html>
